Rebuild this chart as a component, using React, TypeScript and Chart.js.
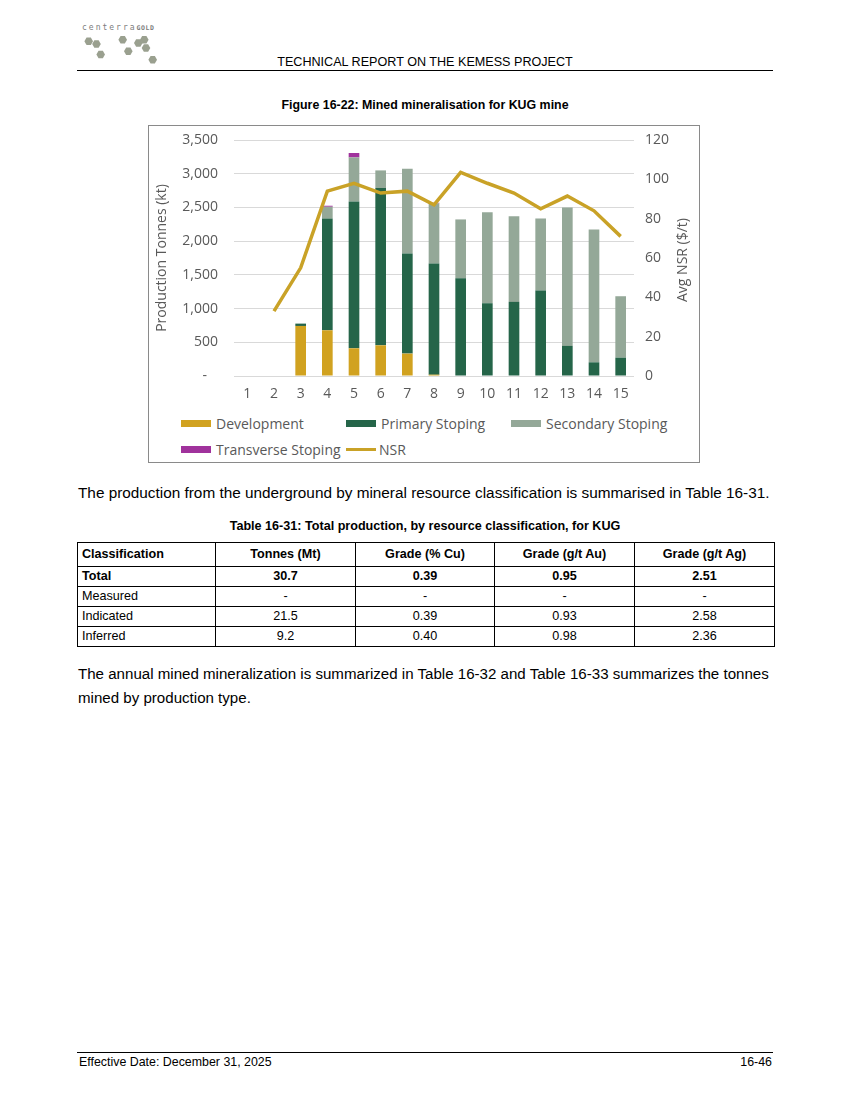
import React, { useEffect, useRef } from "react";
import { Chart, registerables } from "chart.js";

Chart.register(...registerables);

const categories = ["1", "2", "3", "4", "5", "6", "7", "8", "9", "10", "11", "12", "13", "14", "15"];
const development = [null, null, 742, 678, 411, 455, 332, 20, 0, 0, 0, 0, 0, 0, 0];
const primaryStoping = [null, null, 35, 1658, 2178, 2332, 1485, 1648, 1450, 1079, 1099, 1267, 446, 203, 272];
const secondaryStoping = [null, null, 0, 174, 653, 262, 1257, 891, 872, 1351, 1272, 1069, 2054, 1970, 911];
const transverseStoping = [null, null, 0, 15, 65, 0, 0, 10, 0, 0, 0, 0, 0, 0, 0];
const nsr = [null, 33, 55, 94, 98, 93, 94, 87, 103.5, 98, 93, 85, 91.5, 84, 71];

const leftTicks = { min: 0, max: 3500, step: 500 };
const rightTicks = { min: 0, max: 120, step: 20 };

const C_DEV = "#D1A220";
const C_PRI = "#256549";
const C_SEC = "#94A898";
const C_TRA = "#A0329C";
const C_NSR = "#C9A227";
const TXT = "#595959";
const CHART_FONT = "'Open Sans', 'Liberation Sans', sans-serif";
const DOC_FONT = "'Liberation Sans', Arial, sans-serif";

const legendItems = [
  { label: "Development", color: C_DEV, kind: "bar" },
  { label: "Primary Stoping", color: C_PRI, kind: "bar" },
  { label: "Secondary Stoping", color: C_SEC, kind: "bar" },
  { label: "Transverse Stoping", color: C_TRA, kind: "bar" },
  { label: "NSR", color: C_NSR, kind: "line" },
];

const tableHeader = ["Classification", "Tonnes (Mt)", "Grade (% Cu)", "Grade (g/t Au)", "Grade (g/t Ag)"];
const tableRows = [
  ["Total", "30.7", "0.39", "0.95", "2.51"],
  ["Measured", "-", "-", "-", "-"],
  ["Indicated", "21.5", "0.39", "0.93", "2.58"],
  ["Inferred", "9.2", "0.40", "0.98", "2.36"],
];

const hexes = [
  [88.7, 41.3], [96.5, 44], [100.7, 54.5], [122.7, 39.7], [128.3, 51.3], [138.3, 43], [144.3, 39.7], [146, 48], [152.7, 59.7],
];

function hexPoints(cx: number, cy: number, r: number) {
  const pts: string[] = [];
  for (let i = 0; i < 6; i++) {
    const a = (Math.PI / 3) * i;
    pts.push(`${(cx + r * Math.cos(a)).toFixed(2)},${(cy + r * Math.sin(a)).toFixed(2)}`);
  }
  return pts.join(" ");
}

function MinedChart() {
  const ref = useRef<HTMLCanvasElement | null>(null);
  useEffect(() => {
    if (!ref.current) return;
    const font = { family: CHART_FONT, size: 14 };
    const chart = new Chart(ref.current, {
      type: "bar",
      data: {
        labels: categories,
        datasets: [
          { type: "line", label: "NSR", data: nsr, yAxisID: "y1", borderColor: C_NSR, backgroundColor: C_NSR, borderWidth: 3.5, pointRadius: 0, tension: 0, order: 0, spanGaps: false } as any,
          { label: "Development", data: development, backgroundColor: C_DEV, yAxisID: "y", order: 1, barPercentage: 0.4, categoryPercentage: 1 },
          { label: "Primary Stoping", data: primaryStoping, backgroundColor: C_PRI, yAxisID: "y", order: 1, barPercentage: 0.4, categoryPercentage: 1 },
          { label: "Secondary Stoping", data: secondaryStoping, backgroundColor: C_SEC, yAxisID: "y", order: 1, barPercentage: 0.4, categoryPercentage: 1 },
          { label: "Transverse Stoping", data: transverseStoping, backgroundColor: C_TRA, yAxisID: "y", order: 1, barPercentage: 0.4, categoryPercentage: 1 },
        ],
      },
      options: {
        animation: false,
        responsive: false,
        devicePixelRatio: 1,
        layout: { padding: { top: 14, left: 0, right: 0, bottom: 0 } },
        plugins: { legend: { display: false }, tooltip: { enabled: false } },
        scales: {
          x: {
            stacked: true,
            grid: { display: false },
            border: { display: false },
            ticks: { color: TXT, font, padding: 2, maxRotation: 0, autoSkip: false },
            afterFit: (s: any) => { s.height = 30; },
          },
          y: {
            position: "left",
            stacked: true,
            min: leftTicks.min,
            max: leftTicks.max,
            grid: { color: "#D9D9D9", drawTicks: false, lineWidth: 1 },
            border: { display: false },
            ticks: {
              stepSize: leftTicks.step,
              color: TXT,
              font,
              padding: 16,
              callback: (v: any) => (Number(v) === 0 ? "-   " : Number(v).toLocaleString("en-US")),
            },
            title: { display: true, text: "Production Tonnes (kt)", color: TXT, font, padding: { top: 5, bottom: 0 } },
            afterFit: (s: any) => { s.width = 85; s.paddingTop = 0; s.paddingBottom = 0; },
          },
          y1: {
            position: "right",
            min: rightTicks.min,
            max: rightTicks.max,
            grid: { display: false, drawTicks: false },
            border: { display: false },
            ticks: { stepSize: rightTicks.step, color: TXT, font, padding: 11 },
            afterFit: (s: any) => { s.width = 65; s.paddingTop = 0; s.paddingBottom = 0; },
          },
        },
      },
    });
    return () => chart.destroy();
  }, []);
  return <canvas ref={ref} width={550} height={280} style={{ position: "absolute", left: 0, top: 0, width: 550, height: 280 }} />;
}

export default function App() {
  const abs = (l: number, t: number): React.CSSProperties => ({ position: "absolute", left: l, top: t });
  return (
    <div style={{ position: "absolute", left: 0, top: 0, width: 849, height: 1100, background: "#fff", fontFamily: DOC_FONT, color: "#000" }}>
      {/* Logo */}
      <div style={{ ...abs(82, 23), fontFamily: "'DejaVu Sans Mono', monospace", fontSize: 8, letterSpacing: 2, color: "#7d7d7d", lineHeight: "10px", whiteSpace: "nowrap" }}>
        centerra<span style={{ fontSize: 6.5, letterSpacing: 0.6, fontWeight: "bold" }}>GOLD</span>
      </div>
      <svg style={abs(0, 0)} width={200} height={75}>
        {hexes.map(([x, y], i) => (
          <polygon key={i} points={hexPoints(x, y, 4.3)} fill="#9AA08F" />
        ))}
      </svg>
      {/* Header */}
      <div style={{ ...abs(77, 55), width: 696, textAlign: "center", fontSize: 12.6, lineHeight: "14px" }}>
        TECHNICAL REPORT ON THE KEMESS PROJECT
      </div>
      <div style={{ ...abs(77, 70), width: 696, height: 1, background: "#000" }} />
      {/* Figure caption */}
      <div style={{ ...abs(77, 98), width: 696, textAlign: "center", fontSize: 12.4, fontWeight: "bold", lineHeight: "14px" }}>
        Figure 16-22: Mined mineralisation for KUG mine
      </div>
      {/* Chart box */}
      <div style={{ ...abs(148, 125), width: 550, height: 336, border: "1px solid #8a8a8a" }}>
        <MinedChart />
        <div style={{ position: "absolute", left: 533 - 100, top: 134 - 10, width: 200, height: 20, lineHeight: "20px", textAlign: "center", transform: "rotate(-90deg)", fontFamily: CHART_FONT, fontSize: 14, color: TXT, whiteSpace: "nowrap" }}>
          Avg NSR ($/t)
        </div>
        {legendItems.map((it, i) => {
          const col = i % 3;
          const row = Math.floor(i / 3);
          const left = 32 + col * 165;
          const top = 288 + row * 26;
          return (
            <div key={it.label} style={{ position: "absolute", left, top, height: 18, display: "flex", alignItems: "center", whiteSpace: "nowrap", fontFamily: CHART_FONT, fontSize: 14, color: TXT }}>
              <span style={{ display: "inline-block", width: 30, height: it.kind === "bar" ? 7 : 3, background: it.color, marginRight: it.kind === "bar" ? 5 : 3 }} />
              {it.label}
            </div>
          );
        })}
      </div>
      {/* Paragraph 1 */}
      <div style={{ ...abs(78, 484), fontSize: 15.33, lineHeight: "18px", whiteSpace: "nowrap" }}>
        The production from the underground by mineral resource classification is summarised in Table 16-31.
      </div>
      {/* Table caption */}
      <div style={{ ...abs(77, 519), width: 696, textAlign: "center", fontSize: 12.6, fontWeight: "bold", lineHeight: "14px" }}>
        Table 16-31: Total production, by resource classification, for KUG
      </div>
      {/* Table */}
      <table style={{ ...abs(77, 542), width: 697, borderCollapse: "collapse", fontSize: 12.6, tableLayout: "fixed" }}>
        <colgroup>
          <col style={{ width: 138 }} />
          <col style={{ width: 140 }} />
          <col style={{ width: 139 }} />
          <col style={{ width: 140 }} />
          <col style={{ width: 140 }} />
        </colgroup>
        <tbody>
          <tr style={{ height: 24 }}>
            {tableHeader.map((h, i) => (
              <td key={h} style={{ border: "1px solid #000", fontWeight: "bold", textAlign: i === 0 ? "left" : "center", padding: "0 4px", lineHeight: "13px" }}>{h}</td>
            ))}
          </tr>
          {tableRows.map((r, ri) => (
            <tr key={r[0]} style={{ height: 20 }}>
              {r.map((c, i) => (
                <td key={i} style={{ border: "1px solid #000", fontWeight: ri === 0 ? "bold" : "normal", textAlign: i === 0 ? "left" : "center", padding: "0 4px", lineHeight: "13px" }}>{c}</td>
              ))}
            </tr>
          ))}
        </tbody>
      </table>
      {/* Paragraph 2 */}
      <div style={{ ...abs(78, 662), width: 720, fontSize: 15.1, lineHeight: "24px", whiteSpace: "nowrap" }}>
        The annual mined mineralization is summarized in Table 16-32 and Table 16-33 summarizes the tonnes<br />
        mined by production type.
      </div>
      {/* Footer */}
      <div style={{ ...abs(77, 1052), width: 696, height: 1, background: "#000" }} />
      <div style={{ ...abs(79, 1055), fontSize: 12.4, lineHeight: "14px" }}>Effective Date: December 31, 2025</div>
      <div style={{ ...abs(600, 1055), width: 172, textAlign: "right", fontSize: 12.4, lineHeight: "14px" }}>16-46</div>
    </div>
  );
}
